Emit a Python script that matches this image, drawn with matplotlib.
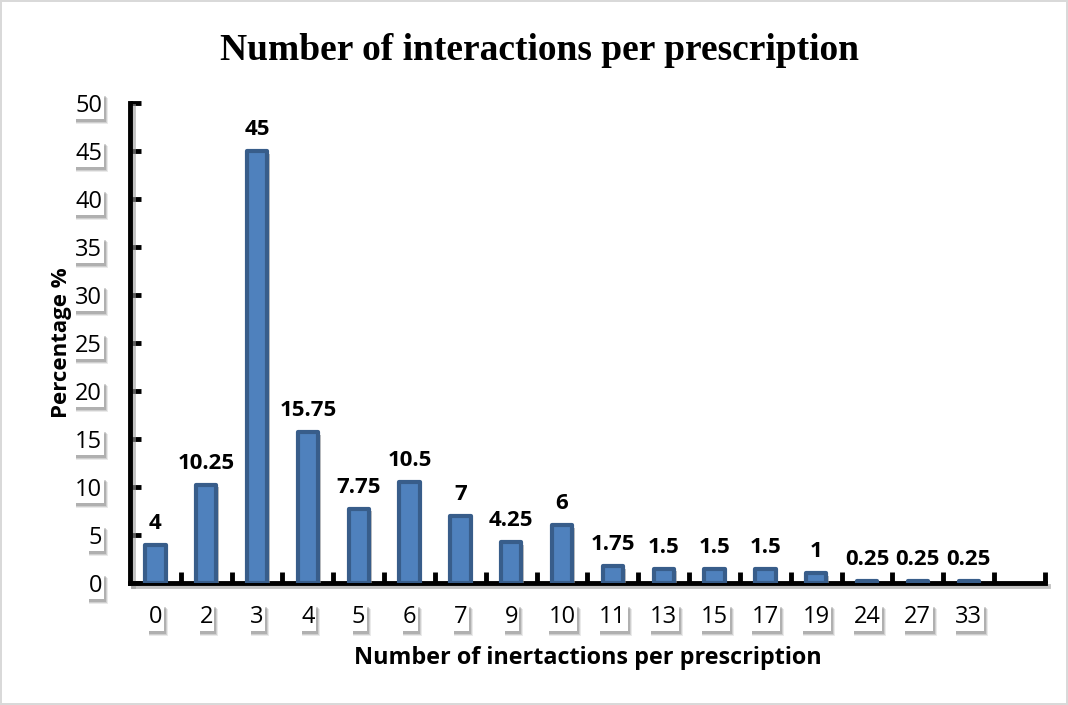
import numpy as np
import matplotlib
matplotlib.use('Agg')
import matplotlib.pyplot as plt
from matplotlib import patheffects as pe
from matplotlib.patches import Rectangle

categories = ['0', '2', '3', '4', '5', '6', '7', '9', '10', '11', '13', '15', '17', '19', '24', '27', '33']
percentages = [4, 10.25, 45, 15.75, 7.75, 10.5, 7, 4.25, 6, 1.75, 1.5, 1.5, 1.5, 1, 0.25, 0.25, 0.25]
value_labels = ['4', '10.25', '45', '15.75', '7.75', '10.5', '7', '4.25', '6', '1.75', '1.5', '1.5', '1.5', '1', '0.25', '0.25', '0.25']
y_ticks = [0, 5, 10, 15, 20, 25, 30, 35, 40, 45, 50]

sans = ['Open Sans', 'DejaVu Sans']
shadow = [pe.SimplePatchShadow(offset=(2, -2), shadow_rgbFace='#9a9a9a', alpha=0.6), pe.Normal()]
line_shadow = [pe.SimpleLineShadow(offset=(2, -2), shadow_color='#9a9a9a', alpha=0.6), pe.Normal()]

fig = plt.figure(figsize=(10.68, 7.05), dpi=100)
fig.patch.set_edgecolor('#d9d9d9')
fig.patch.set_linewidth(1.5)
ax = fig.add_axes([0.1217, 0.173, 0.8567, 0.681])

x = np.arange(len(categories))
bars = ax.bar(x, percentages, width=0.4, color='#4f81bd', edgecolor='#385d8a', linewidth=3, zorder=3)
for b in bars:
    b.set_joinstyle('round')
    b.set_path_effects(shadow)

for xi, v, lab in zip(x, percentages, value_labels):
    ax.annotate(lab, (xi, v), xytext=(0, 8), textcoords='offset points', ha='center', va='bottom',
                fontsize=16, fontweight='bold', family=sans)

ax.set_xlim(-0.5, len(categories) + 0.5)
ax.set_ylim(0, 50)

for s in ['top', 'right']:
    ax.spines[s].set_visible(False)
for s in ['left', 'bottom']:
    ax.spines[s].set_linewidth(3.5)
    ax.spines[s].set_path_effects(line_shadow)

ax.set_yticks(y_ticks)
ax.set_yticklabels([str(t) for t in y_ticks], family=sans, fontsize=17)
ax.tick_params(axis='y', direction='in', length=8, width=3.5, pad=20)

ax.set_xticks(x)
ax.set_xticklabels(categories, family=sans, fontsize=17)
ax.tick_params(axis='x', which='major', length=0, pad=16)
ax.set_xticks(np.arange(0.5, len(categories) + 1), minor=True)
ax.tick_params(axis='x', which='minor', direction='in', length=8, width=3.5)

ticklabels = ax.get_xticklabels() + ax.get_yticklabels()
for t in ticklabels:
    t.set_bbox(dict(boxstyle='square,pad=0.06', facecolor='white', edgecolor='none'))

ax.set_ylabel('Percentage %', family=sans, fontsize=16, fontweight='bold', labelpad=2)
ax.set_xlabel('Number of inertactions per prescription', family=sans, fontsize=16.8, fontweight='bold', labelpad=12)
fig.text(0.505, 0.929, 'Number of interactions per prescription', ha='center', va='center',
         family=['Liberation Serif', 'DejaVu Serif'], fontsize=27, fontweight='bold')

# soft drop shadows behind the boxed tick labels
fig.canvas.draw()
renderer = fig.canvas.get_renderer()
for t in ticklabels:
    bb = t.get_bbox_patch().get_window_extent(renderer)
    for k, a in enumerate([0.12, 0.18, 0.25]):
        grow = 2 - k
        fig.patches.append(Rectangle((bb.x0 + 2, bb.y0 - 3 - grow), bb.width + grow, bb.height,
                                     transform=None, facecolor='#555555', edgecolor='none', alpha=a, zorder=-1))

fig.savefig('out.png', dpi=100, edgecolor=fig.get_edgecolor())
